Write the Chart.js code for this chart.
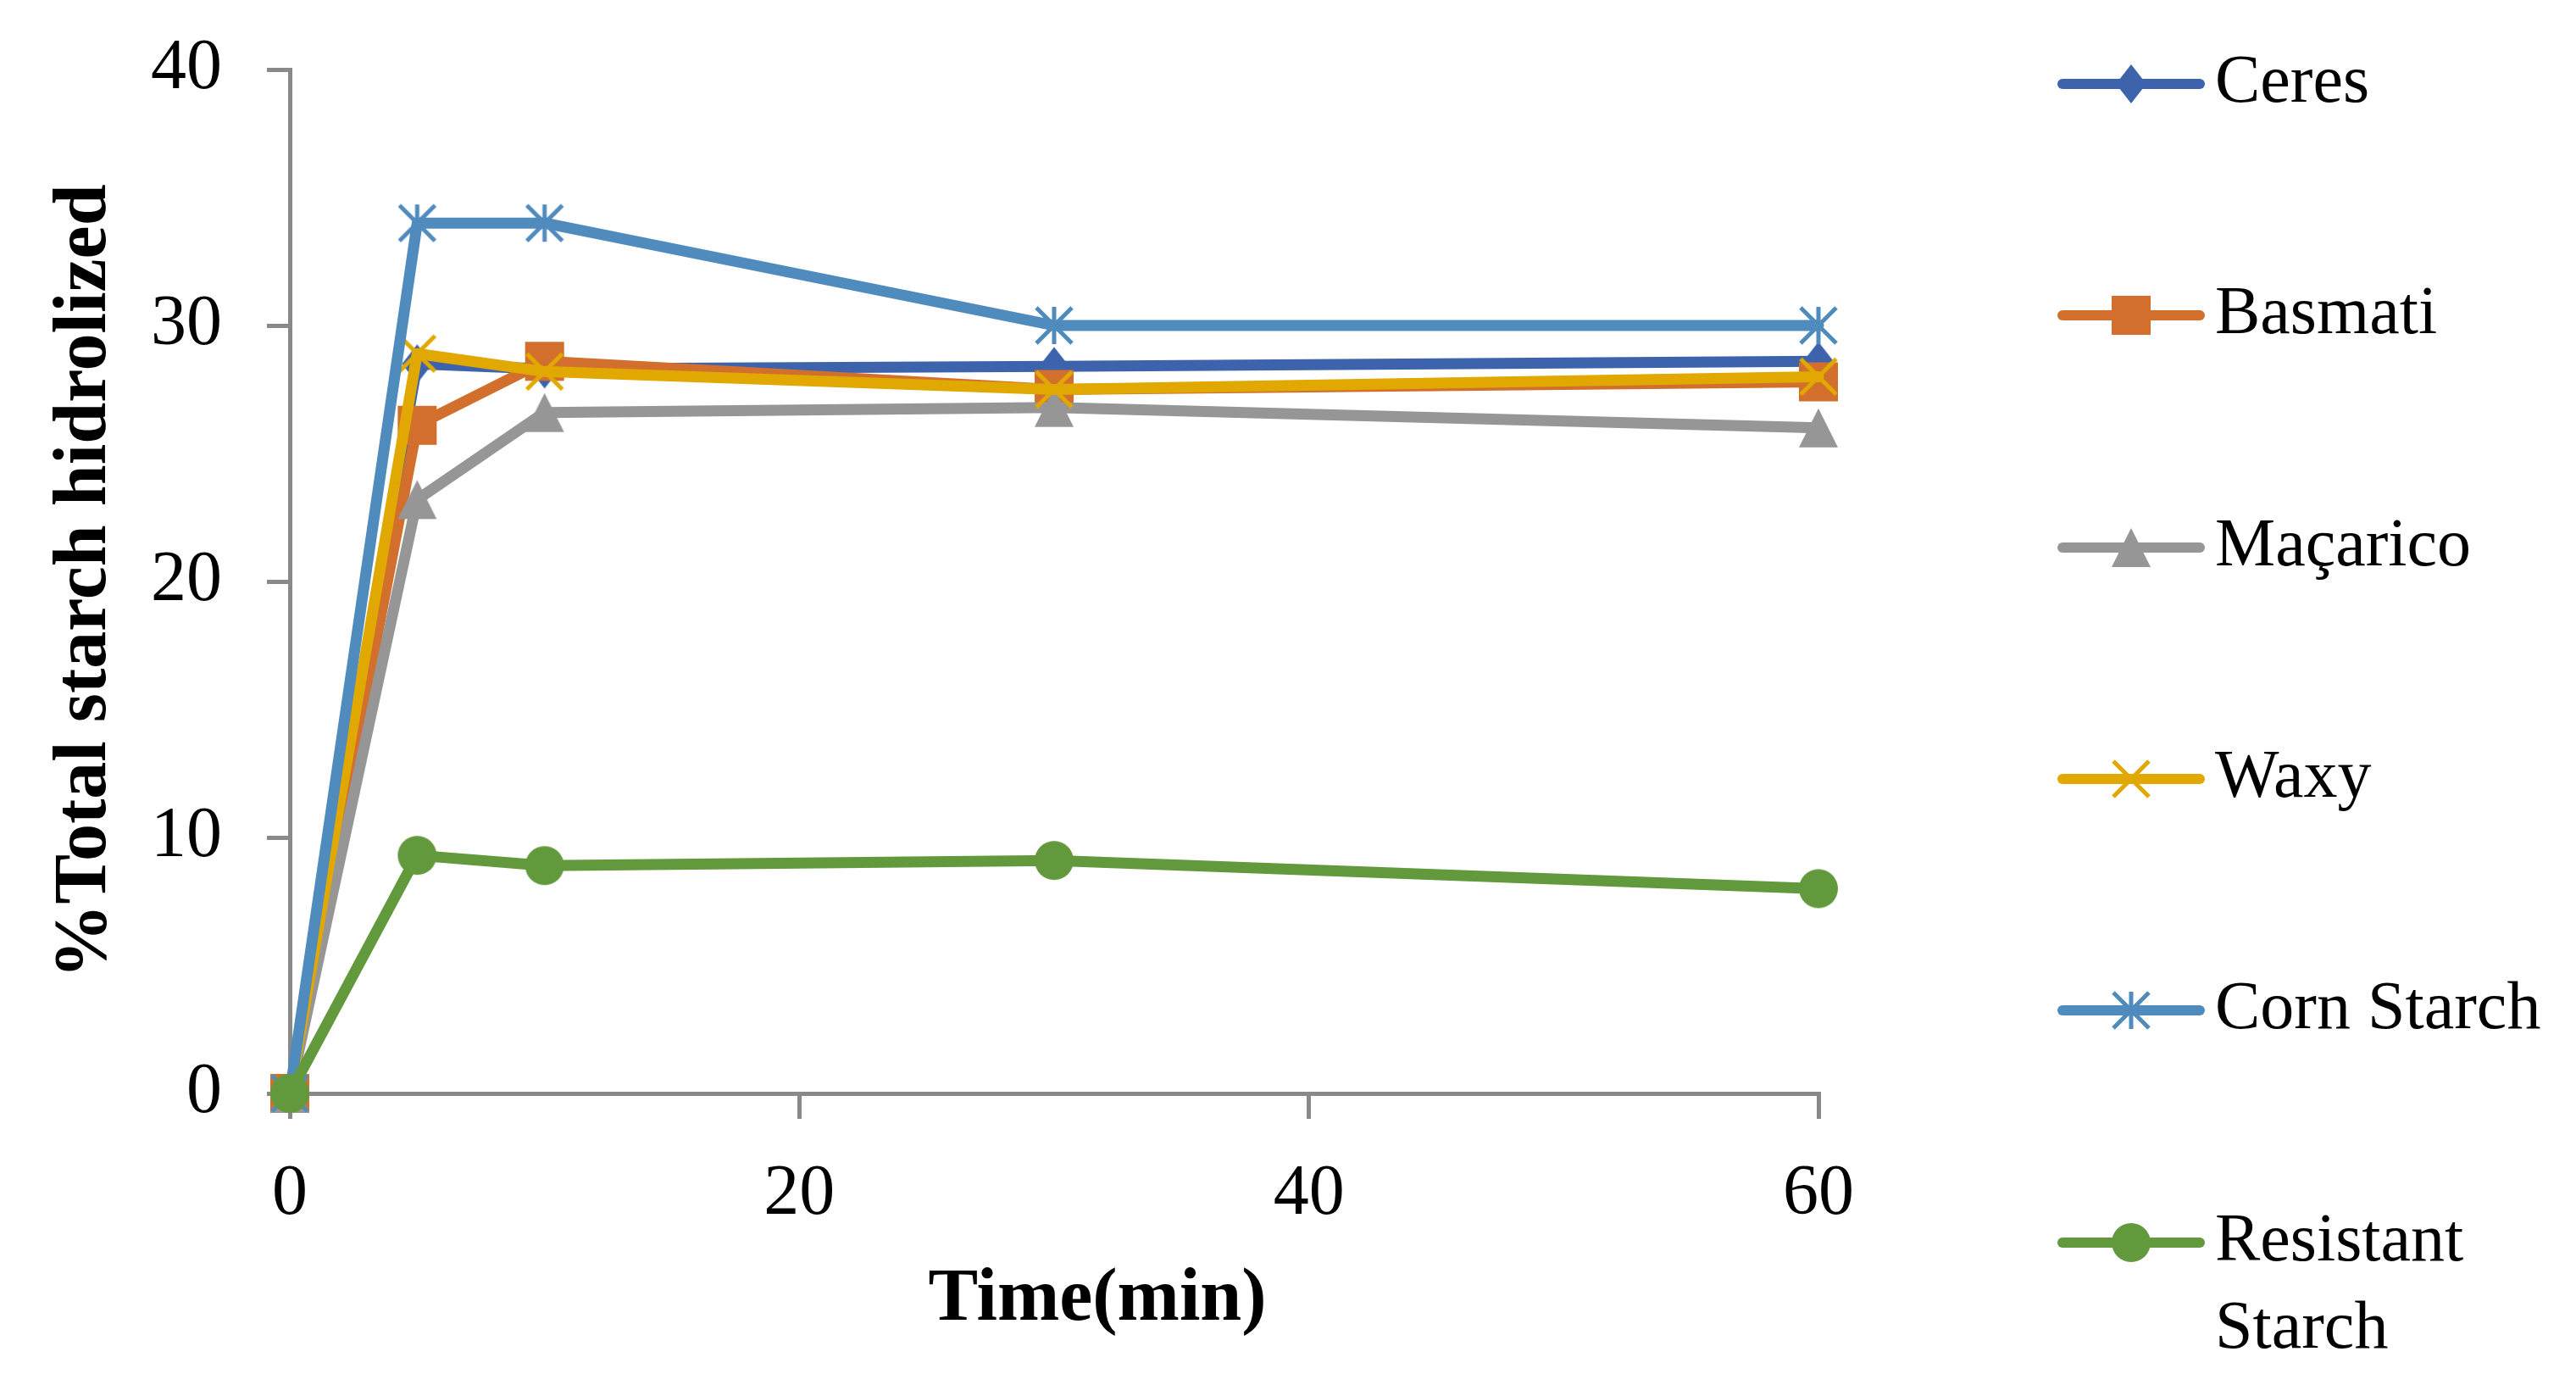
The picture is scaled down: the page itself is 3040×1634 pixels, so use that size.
<!DOCTYPE html>
<html>
<head>
<meta charset="utf-8">
<script src="https://cdn.jsdelivr.net/npm/chart.js@4.4.1/dist/chart.umd.min.js"></script>
<style>
  html, body { margin: 0; padding: 0; background: #fff; }
  #wrap { width: 3040px; height: 1634px; position: relative; }
</style>
</head>
<body>
<div id="wrap"><canvas id="grafica"></canvas></div>
<script>
const times = [0, 5, 10, 30, 60];
const seriesNames = ['Ceres', 'Basmati', 'Maçarico', 'Waxy', 'Corn Starch', 'Resistant Starch'];
const ceres = [0, 28.5, 28.3, 28.4, 28.6];
const basmati = [0, 26.1, 28.6, 27.5, 27.8];
const macarico = [0, 23.2, 26.6, 26.8, 26.0];
const waxy = [0, 28.9, 28.2, 27.5, 28.0];
const cornStarch = [0, 34.0, 34.0, 30.0, 30.0];
const resistantStarch = [0, 9.3, 8.9, 9.1, 8.0];
const xTicks = [0, 20, 40, 60];
const yTicks = [0, 10, 20, 30, 40];

const seriesValues = [ceres, basmati, macarico, waxy, cornStarch, resistantStarch];
const colors = ['rgb(62,99,173)', 'rgb(211,111,44)', 'rgb(150,150,150)', 'rgb(224,168,0)', 'rgb(80,139,190)', 'rgb(99,153,61)'];

// marcadores estilo Excel dibujados en pequeños canvas
function marcador(tipo, color) {
    const cv = document.createElement('canvas');
    cv.width = 48;
    cv.height = 48;
    const c = cv.getContext('2d');
    c.fillStyle = color;
    c.strokeStyle = color;
    if (tipo === 'diamond') {
        c.beginPath();
        c.moveTo(24, 1); c.lineTo(42, 24); c.lineTo(24, 47); c.lineTo(6, 24);
        c.closePath(); c.fill();
    } else if (tipo === 'square') {
        c.fillRect(1, 1, 46, 46);
    } else if (tipo === 'triangle') {
        c.beginPath();
        c.moveTo(24, 1); c.lineTo(47, 47); c.lineTo(1, 47);
        c.closePath(); c.fill();
    } else if (tipo === 'x' || tipo === 'star') {
        c.lineWidth = 5;
        c.beginPath();
        c.moveTo(3, 3); c.lineTo(45, 45);
        c.moveTo(45, 3); c.lineTo(3, 45);
        if (tipo === 'star') { c.moveTo(24, 2); c.lineTo(24, 46); }
        c.stroke();
    } else {
        c.beginPath();
        c.arc(24, 24, 23, 0, Math.PI * 2);
        c.fill();
    }
    return cv;
}

const markerTypes = ['diamond', 'square', 'triangle', 'x', 'star', 'circle'];
const markers = markerTypes.map((t, i) => marcador(t, colors[i]));

const ctx = document.getElementById('grafica').getContext('2d');

const datasets = seriesNames.map((name, i) => ({
    label: name,
    data: times.map((t, j) => ({ x: t, y: seriesValues[i][j] })),
    borderColor: colors[i],
    backgroundColor: colors[i],
    borderWidth: 13,
    borderJoinStyle: 'round',
    borderCapStyle: 'round',
    pointStyle: markers[i],
    pointRadius: 23,
    tension: 0,
    clip: false,
    order: seriesNames.length - 1 - i // la ultima serie queda encima
}));

const axisGray = 'rgb(137,137,137)';
const serif = "'Liberation Serif', 'DejaVu Serif', serif";

// leyenda a la derecha y titulo del eje x
const legendaDerecha = {
    id: 'legendaDerecha',
    afterDraw(chart) {
        const c = chart.ctx;
        const rows = [99, 372, 646, 919, 1192, 1466];
        c.save();
        chart.data.datasets.forEach((ds, i) => {
            const y = rows[i];
            c.strokeStyle = ds.borderColor;
            c.lineWidth = 12;
            c.lineCap = 'round';
            c.beginPath();
            c.moveTo(2434, y);
            c.lineTo(2596, y);
            c.stroke();
            const m = ds.pointStyle;
            c.drawImage(m, 2515 - m.width / 2, y - m.height / 2);
            c.fillStyle = '#000';
            c.font = '80px ' + serif;
            c.textBaseline = 'middle';
            c.textAlign = 'left';
            if (ds.label === 'Resistant Starch') {
                c.fillText('Resistant', 2614, y);
                c.fillText('Starch', 2614, y + 103);
            } else {
                c.fillText(ds.label, 2614, y);
            }
        });
        c.font = 'bold 88px ' + serif;
        c.textAlign = 'center';
        c.textBaseline = 'alphabetic';
        c.fillStyle = '#000';
        c.fillText('Time(min)', 1295, 1557);
        c.restore();
    }
};

const config = {
    type: 'line',
    data: { datasets: datasets },
    options: {
        responsive: true,
        maintainAspectRatio: false,
        animation: false,
        devicePixelRatio: 1,
        layout: { padding: { left: 0, top: 82, right: 894, bottom: 0 } },
        plugins: {
            legend: { display: false },
            tooltip: { enabled: false },
            title: { display: false }
        },
        scales: {
            x: {
                type: 'linear',
                min: 0,
                max: 60,
                afterFit: s => { s.height = 344; s.paddingLeft = 0; s.paddingRight = 0; },
                afterBuildTicks: s => { s.ticks = xTicks.map(v => ({ value: v })); },
                ticks: { color: '#000', font: { family: serif, size: 84 }, padding: 40 },
                grid: { drawOnChartArea: false, drawTicks: true, tickLength: 30, color: axisGray, lineWidth: 5 },
                border: { display: true, color: axisGray, width: 5 }
            },
            y: {
                min: 0,
                max: 40,
                afterFit: s => { s.width = 342; s.paddingTop = 0; s.paddingBottom = 0; },
                afterBuildTicks: s => { s.ticks = yTicks.map(v => ({ value: v })); },
                ticks: { color: '#000', font: { family: serif, size: 84 }, padding: 53 },
                grid: { drawOnChartArea: false, drawTicks: true, tickLength: 27, color: axisGray, lineWidth: 5 },
                border: { display: true, color: axisGray, width: 5 },
                title: {
                    display: true,
                    text: '%Total starch hidrolized',
                    color: '#000',
                    font: { family: serif, size: 88, weight: 'bold' },
                    padding: { top: 48, bottom: 0 }
                }
            }
        }
    },
    plugins: [legendaDerecha]
};

const miGrafica = new Chart(ctx, config);
</script>
</body>
</html>
